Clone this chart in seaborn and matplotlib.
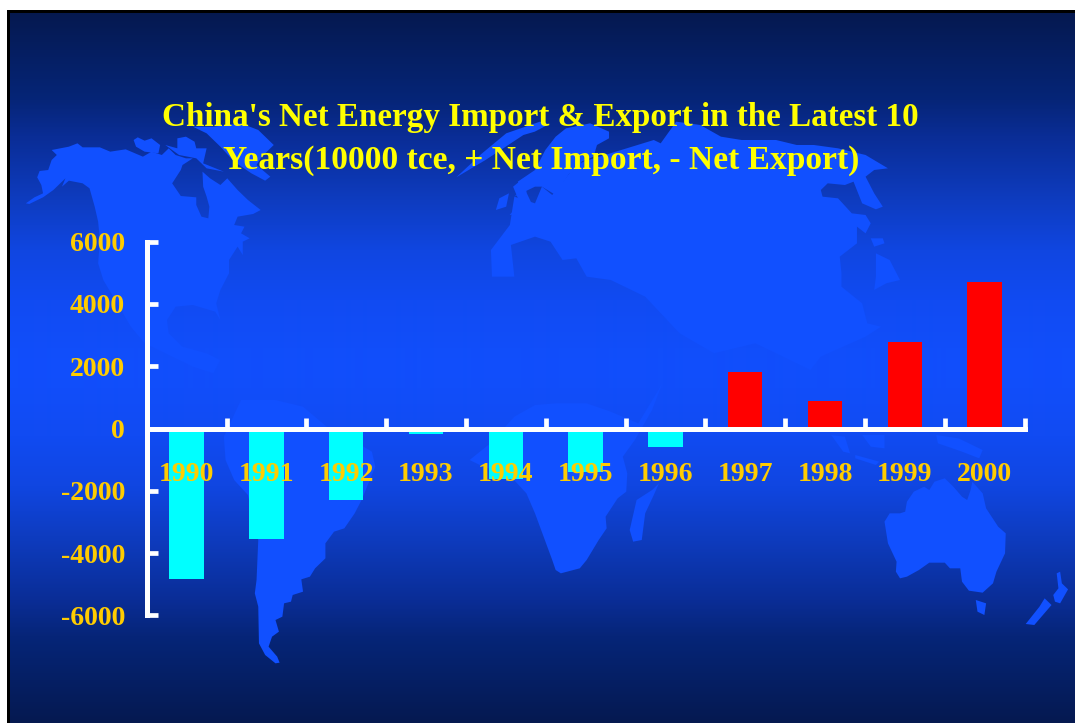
import numpy as np
import pandas as pd
import matplotlib
matplotlib.use("Agg")
import matplotlib.pyplot as plt
from matplotlib.patches import Polygon, Rectangle
import seaborn as sns

# ---- data ----
years = ["1990", "1991", "1992", "1993", "1994", "1995", "1996", "1997", "1998", "1999", "2000"]
net_import = [-4830, -3555, -2305, -190, -1610, -1385, -585, 1800, 880, 2765, 4710]
y_ticks = [-6000, -4000, -2000, 0, 2000, 4000, 6000]
title_line_1 = "China's Net Energy Import & Export in the Latest 10"
title_line_2 = "Years(10000 tce, + Net Import, - Net Export)"

W, H = 1075, 723
sns.set_theme(style="ticks")
plt.rcParams["font.family"] = ["Liberation Serif", "DejaVu Serif"]
plt.rcParams["font.weight"] = "bold"

fig = plt.figure(figsize=(W / 100, H / 100), dpi=100, facecolor="white")

# ---- slide background: gradient, world map decoration, black frame ----
bg = fig.add_axes([0, 0, 1, 1], zorder=0)
bg.axis("off")
dist = [0, 20, 68, 118, 168, 232, 268, 355]
cols = [(17, 78, 252), (17, 78, 250), (17, 75, 242), (16, 70, 225), (14, 60, 192), (10, 45, 150), (6, 37, 120), (5, 25, 80)]
rows = np.arange(13, H)
d = np.abs(rows - 368.0)
grad = np.stack([np.interp(d, dist, [c[i] for c in cols]) for i in range(3)], axis=1)[:, None, :] / 255
bg.imshow(grad, extent=(10, W, H, 13), aspect="auto", interpolation="bilinear", zorder=0)
bg.set_xlim(0, W)
bg.set_ylim(H, 0)

O4, O5, O6, O7 = (0, 90), (535, 90), (0, 380), (535, 380)
def shape(origin, pts):
    return [(origin[0] + x / 2.904, origin[1] + y / 3) for x, y in pts]

north_america = shape(O4, [(75,340),(100,322),(125,310),(120,285),(108,262),(115,243),(140,240),(150,210),(165,195),(150,180),
    (200,170),(225,160),(240,172),(290,172),(320,185),(365,178),(415,200),(440,185),(470,195),(490,175),(510,195),(540,205),
    (560,205),(530,225),(525,240),(500,280),(525,318),(570,322),(570,345),(585,380),(605,385),(608,350),(600,320),(590,290),
    (588,245),(610,265),(640,285),(660,265),(690,300),(720,330),(757,360),(735,372),(690,380),(680,405),(710,410),(700,430),
    (725,445),(705,455),(705,495),(690,470),(665,510),(665,550),(640,600),(628,640),(640,690),(625,665),(560,645),(510,650),
    (485,690),(490,730),(530,770),(600,790),(640,810),(620,850),(560,830),(480,790),(420,760),(380,710),(340,640),(300,570),
    (285,520),(290,450),(285,395),(275,350),(260,295),(240,280),(200,272),(180,290),(190,265),(155,300),(125,322),(85,342)])
south_america = shape(O6, [(650,170),(655,240),(680,300),(720,345),(750,480),(745,600),(740,640),(750,680),(752,790),(770,825),
    (800,850),(812,848),(805,830),(780,800),(790,770),(810,755),(800,720),(820,710),(825,670),(845,665),(850,645),(880,635),
    (875,598),(900,590),(915,565),(945,535),(945,490),(970,455),(1000,445),(1030,400),(1050,360),(1090,260),(1080,215),
    (1040,190),(960,150),(880,80),(800,60),(700,60)])
greenland = shape(O4, [(560,110),(620,110),(700,100),(750,120),(795,165),(760,200),(745,225),(785,260),(770,272),(730,250),
    (680,215),(640,170),(600,130)])
arctic_a = shape(O4, [(388,150),(400,142),(420,152),(440,145),(465,165),(460,190),(420,185),(395,170)])
arctic_b = shape(O4, [(480,165),(515,175),(515,145),(540,140),(565,155),(570,175),(600,175),(590,220),(650,245),(600,235),(570,205),(520,195)])
britain = shape(O4, [(1490,290),(1520,265),(1530,310),(1555,365),(1480,375),(1510,340)])
ireland = shape(O4, [(1440,360),(1450,325),(1478,310),(1470,350)])
arctic_strip = shape(O4, [(1325,262),(1400,190),(1470,130),(1568,95),(1590,105),(1553,125),(1520,135),(1410,210)])
scandinavia = shape(O5, [(-60,320),(0,290),(20,290),(60,315),(75,290),(100,250),(130,270),(135,215),(170,200),(180,165),(215,145),
    (215,125),(160,100),(90,115),(60,140),(30,180),(0,240),(-50,275),(-40,300)])
asia = shape(O5, [(-128,480),(-73,405),(-60,320),(0,340),(20,290),(50,315),(100,250),(140,215),(345,150),(365,160),(410,95),(480,105),(540,140),
    (600,150),(700,150),(760,165),(810,165),(880,175),(960,195),(1025,235),(985,240),(960,260),(985,310),(1010,350),(990,358),
    (950,340),(925,275),(900,285),(850,280),(830,300),(835,320),(880,325),(920,370),(960,375),(975,400),(960,430),(935,410),
    (935,460),(885,500),(890,550),(890,590),(950,640),(965,700),(1005,710),(960,740),(830,800),(800,840),(640,760),(520,790),
    (420,730),(320,620),(220,570),(150,560),(120,505),(80,510),(45,455),(0,440),(-70,465),(-60,560),(-125,560)])
africa = shape(O7, [(-130,190),(-60,110),(0,75),(60,70),(150,70),(220,95),(300,130),(370,10),(340,90),(290,180),(255,230),
    (268,280),(265,335),(240,355),(205,410),(208,445),(185,480),(150,540),(130,565),(75,580),(60,570),(50,540),(25,470),(0,400),
    (-25,340),(-70,290),(-150,260),(-190,240)])
madagascar = shape(O7, [(275,450),(295,360),(340,330),(360,310),(345,345),(320,400),(310,480),(285,485)])
australia = shape(O7, [(1015,425),(1030,400),(1060,400),(1075,395),(1080,365),(1100,335),(1130,320),(1145,330),(1160,305),(1190,295),
    (1215,320),(1240,350),(1255,360),(1265,330),(1270,305),(1300,340),(1310,385),(1345,440),(1367,460),(1365,520),(1340,575),
    (1330,610),(1300,638),(1260,632),(1240,605),(1235,565),(1205,565),(1190,548),(1145,548),(1115,570),(1080,590),(1060,595),
    (1048,575),(1050,545),(1025,490)])
tasmania = shape(O7, [(1280,660),(1310,670),(1305,705),(1285,695)])
nz_north = shape(O7, [(1515,580),(1525,575),(1530,610),(1548,628),(1525,670),(1510,665),(1505,645),(1520,625)])
nz_south = shape(O7, [(1425,732),(1465,680),(1480,655),(1500,675),(1450,735)])
sumatra = shape(O7, [(860,165),(900,170),(915,220),(895,215)])
borneo = shape(O7, [(950,165),(1015,165),(1015,205),(975,200)])
java = shape(O7, [(930,225),(1000,245),(990,255),(930,235)])
new_guinea = shape(O7, [(1165,165),(1230,175),(1300,210),(1290,235),(1240,215),(1170,190)])
japan_a = shape(O5, [(975,445),(1010,445),(1015,460),(985,470)])
japan_b = shape(O5, [(990,490),(1030,510),(1060,570),(1020,580),(985,600),(990,560)])

land = "#1150FF"
for poly in [north_america, south_america, greenland, arctic_a, arctic_b, britain, ireland, arctic_strip, scandinavia, asia, africa,
             madagascar, australia, tasmania, nz_north, nz_south, sumatra, borneo, java, new_guinea, japan_a, japan_b]:
    bg.add_patch(Polygon(poly, closed=True, facecolor=land, edgecolor="none", zorder=1))

bg.add_patch(Rectangle((7, 10), W - 7, 3, facecolor="black", edgecolor="none", zorder=2))
bg.add_patch(Rectangle((7, 10), 3, H - 10, facecolor="black", edgecolor="none", zorder=2))

# ---- chart ----
left, right, top, bottom = 146.7, 1024.5, 241.7, 615.3
ax = fig.add_axes([left / W, 1 - bottom / H, (right - left) / W, (bottom - top) / H], zorder=1)
ax.patch.set_alpha(0)

df = pd.DataFrame({"year": years, "value": net_import})
df["kind"] = np.where(df["value"] < 0, "export", "import")
sns.barplot(data=df, x="year", y="value", hue="kind", order=years,
            palette={"export": "#00FFFF", "import": "#FF0000"},
            dodge=False, width=0.43, saturation=1, legend=False, ax=ax, linewidth=0)

ax.set_xlim(-0.5, len(years) - 0.5)
ax.set_ylim(-6000, 6000)
ax.set_xlabel("")
ax.set_ylabel("")
ax.set_axisbelow(False)
for s in ["top", "right"]:
    ax.spines[s].set_visible(False)
ax.spines["bottom"].set_position(("data", 0))
for s in ["left", "bottom"]:
    ax.spines[s].set_color("white")
    ax.spines[s].set_linewidth(3.6)

ax.set_xticks(np.arange(len(years) + 1) - 0.5)
ax.set_xticklabels([])
ax.set_xticks(np.arange(len(years)), labels=years, minor=True)
ax.set_yticks(y_ticks, labels=[str(v) for v in y_ticks])
ax.tick_params(axis="x", which="major", direction="in", length=8, width=3.4, color="white")
ax.tick_params(axis="x", which="minor", length=0, pad=24, labelsize=20, labelcolor="#FFCC00")
ax.tick_params(axis="y", direction="in", length=8, width=3.4, color="white", pad=15.5, labelsize=20, labelcolor="#FFCC00")
for lab in ax.get_xticklabels(minor=True) + ax.get_yticklabels():
    lab.set_fontweight("bold")

fig.text(540.5 / W, 1 - 117.5 / H, title_line_1, color="#FFFF00", fontsize=23.85, fontweight="bold",
         ha="center", va="center", zorder=5)
fig.text(541 / W, 1 - 160 / H, title_line_2, color="#FFFF00", fontsize=24.1, fontweight="bold",
         ha="center", va="center", zorder=5)

fig.savefig("out.png", dpi=100, facecolor="white")
